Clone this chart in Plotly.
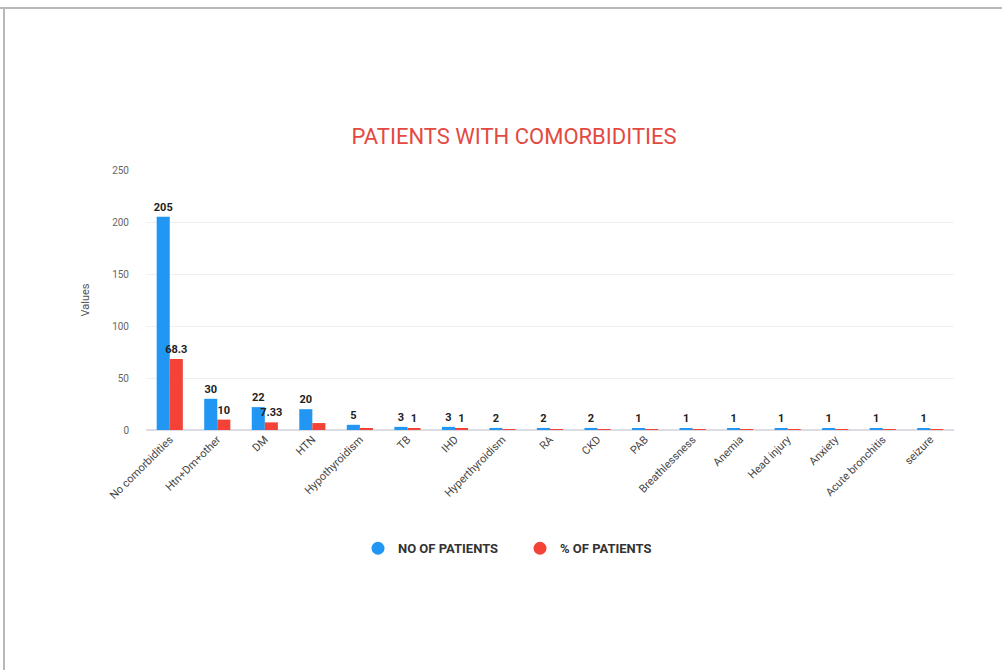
import plotly.graph_objects as go

categories = [
    "No comorbidities", "Htn+Dm+other", "DM", "HTN", "Hypothyroidism", "TB", "IHD",
    "Hyperthyroidism", "RA", "CKD", "PAB", "Breathlessness", "Anemia", "Head injury",
    "Anxiety", "Acute bronchitis", "seizure",
]
no_of_patients = [205, 30, 22, 20, 5, 3, 3, 2, 2, 2, 1, 1, 1, 1, 1, 1, 1]
pct_of_patients = [68.3, 10, 7.33, 6.67, 1.67, 1, 1, 0.67, 0.67, 0.67, 0.33, 0.33, 0.33, 0.33, 0.33, 0.33, 0.33]
# labels printed above the percentage bars (blank where none is shown)
pct_labels = ["68.3", "10", "7.33", "", "", "1", "1", "", "", "", "", "", "", "", "", "", ""]

BLUE = "#2196f3"
RED = "#f44336"
FONT = "Roboto, Arial, sans-serif"

fig = go.Figure()
fig.add_trace(go.Bar(
    x=categories, y=no_of_patients, name="NO OF PATIENTS",
    marker=dict(color=BLUE, line=dict(width=0)),
    text=[str(v) for v in no_of_patients], textposition="outside",
    textfont=dict(family=FONT, size=11, color="#222222", weight="bold"),
    constraintext="none", cliponaxis=False, showlegend=False,
))
fig.add_trace(go.Bar(
    x=categories, y=pct_of_patients, name="% OF PATIENTS",
    marker=dict(color=RED, line=dict(width=0)),
    text=pct_labels, textposition="outside",
    textfont=dict(family=FONT, size=11, color="#222222", weight="bold"),
    constraintext="none", cliponaxis=False, showlegend=False,
))
# circular legend entries
for name, col in [("NO OF PATIENTS", BLUE), ("% OF PATIENTS", RED)]:
    fig.add_trace(go.Scatter(
        x=[None], y=[None], mode="markers", name=name,
        marker=dict(symbol="circle", size=13, color=col),
    ))

fig.update_layout(
    width=1002, height=670,
    margin=dict(l=146, r=48, t=170, b=240),
    paper_bgcolor="white", plot_bgcolor="white",
    font=dict(family=FONT, color="#555555"),
    barmode="group", bargap=0.45, bargroupgap=0.0,
    title=dict(
        text="PATIENTS WITH COMORBIDITIES",
        font=dict(family=FONT, size=22, color="#e4493f"),
        x=0.513, xanchor="center", xref="container",
        y=1 - 136 / 670, yanchor="middle", yref="container",
    ),
    legend=dict(
        orientation="h", x=(358 - 146) / 808, xanchor="left", y=-0.455, yanchor="middle",
        font=dict(family=FONT, size=13, color="#333333", weight="bold"),
        itemwidth=30, entrywidth=117, entrywidthmode="pixels", tracegroupgap=0,
    ),
    xaxis=dict(
        tickangle=-45, tickfont=dict(family=FONT, size=11, color="#444444"),
        showgrid=False, showline=False, ticks="",
    ),
    yaxis=dict(
        range=[0, 250], dtick=50, showgrid=True, gridcolor="#efefef", gridwidth=1,
        zeroline=True, zerolinecolor="#dcdce4", zerolinewidth=1.5,
        tickfont=dict(family=FONT, size=10, color="#666666"),
        ticks="", ticklabelstandoff=16,
        title=dict(text="Values", font=dict(family=FONT, size=11, color="#555555"), standoff=20),
    ),
    shapes=[
        dict(type="line", xref="paper", yref="paper",
             x0=-146 / 808, x1=(1002 - 146) / 808, y0=(670 - 240 - 8) / 260, y1=(670 - 240 - 8) / 260,
             line=dict(color="#b8b8b8", width=2)),
        dict(type="line", xref="paper", yref="paper",
             x0=-142 / 808, x1=-142 / 808, y0=(670 - 240 - 8) / 260, y1=-240 / 260,
             line=dict(color="#b8b8b8", width=2)),
    ],
)

fig.write_html("out.html")
